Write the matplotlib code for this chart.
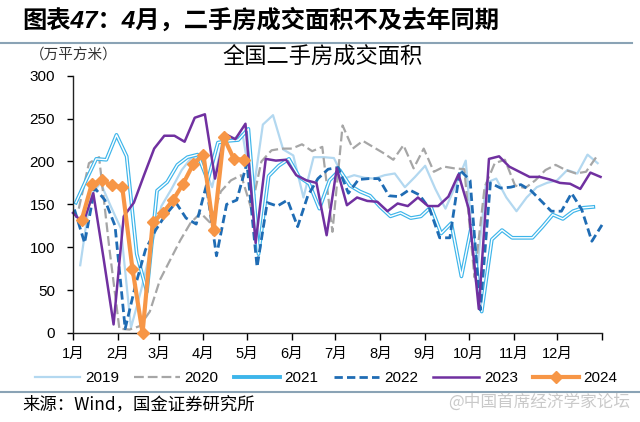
import numpy as np
import matplotlib.pyplot as plt
from matplotlib.lines import Line2D

plt.rcParams['font.family'] = ['Liberation Sans', 'Noto Sans CJK SC']

jahre = ['2019', '2020', '2021', '2022', '2023', '2024']
# first weekly date of each year
start = ['2019-01-06', '2020-01-05', '2021-01-03', '2022-01-02', '2023-01-01', '2024-01-07']

v2019 = [79, 160, 175, 148, 122, 6, 50, 100, 148, 168,
         190, 205, 200, 170, 222, 226, 232, 160, 243, 254,
         214, 207, 158, 205, 205, 204, 180, 184, 181, 180,
         184, 186, 170, 182, 195, 168, 145, 172, 201, 60,
         175, 180, 158, 142, 158, 170, 175, 178, 190, 186,
         208, 198]
v2020 = [145, 198, 205, 100, 5, 4, 8, 25, 62, 85,
         108, 128, 140, 128, 165, 178, 184, 145, 200, 213,
         215, 215, 220, 212, 217, 118, 242, 215, 224, 217,
         210, 202, 219, 192, 215, 188, 194, 192, 191, 65,
         170, 198, 202, 172, 169, 178, 190, 196, 190, 186,
         188, 205]
v2021 = [152, 178, 203, 202, 231, 206, 92, 48, 166, 176,
         196, 205, 208, 178, 222, 224, 225, 238, 92, 183,
         195, 203, 182, 174, 145, 178, 190, 172, 165, 160,
         147, 136, 140, 134, 136, 147, 116, 128, 66, 125,
         25, 109, 120, 111, 111, 111, 124, 138, 133, 142,
         146, 147]
v2022 = [144, 105, 169, 155, 125, 5, 55, 97, 120, 138,
         152, 134, 127, 172, 90, 150, 155, 198, 77, 152,
         148, 155, 124, 160, 180, 191, 193, 163, 179, 180,
         180, 160, 159, 167, 161, 145, 111, 111, 190, 178,
         27, 175, 169, 170, 173, 166, 154, 142, 142, 163,
         144, 107, 126]
v2023 = [140, 128, 163, 88, 10, 136, 152, 184, 215, 230,
         230, 223, 251, 255, 180, 232, 226, 244, 105, 203,
         201, 202, 184, 178, 175, 114, 192, 149, 158, 154,
         153, 142, 151, 148, 158, 148, 148, 159, 185, 145,
         28, 203, 206, 194, 188, 182, 182, 179, 175, 174,
         168, 187, 182]
v2024 = [132, 174, 178, 172, 170, 75, 0, 129, 140, 155,
         174, 197, 208, 120, 228, 203, 202]

werte = [v2019, v2020, v2021, v2022, v2023, v2024]
monate = ['1月', '2月', '3月', '4月', '5月', '6月', '7月', '8月', '9月', '10月', '11月', '12月']


def tage(jahr, anfang, n):
    d = np.datetime64(anfang) + 7 * np.arange(n)
    return (d - np.datetime64(jahr + '-01-01')).astype(int)


monat_tage = [(np.datetime64('2023-%02d-01' % m) - np.datetime64('2023-01-01')).astype(int)
              for m in range(1, 13)] + [365]

fig = plt.figure(figsize=(6.4, 4.22), dpi=100)
ax = fig.add_axes([73 / 640, 1 - 333 / 422, 529 / 640, 257.3 / 422])

x = [tage(j, s, len(v)) for j, s, v in zip(jahre, start, werte)]

ax.plot(x[0], v2019, color='#b3d8f0', lw=1.6, clip_on=False)
ax.plot(x[1], v2020, color='#a6a6a6', lw=1.6, dashes=(4.4, 1.8), clip_on=False)
# 2021 is drawn as a double line
ax.plot(x[2], v2021, color='#3db5ea', lw=2.7, clip_on=False)
ax.plot(x[2], v2021, color='white', lw=1.0, clip_on=False)
ax.plot(x[3], v2022, color='#1f6cb4', lw=2.0, dashes=(3, 1.5), clip_on=False)
ax.plot(x[4], v2023, color='#7030a0', lw=1.8, clip_on=False)
ax.plot(x[5], v2024, color='#f79646', lw=3.0, marker='D', ms=6.5, clip_on=False, zorder=5)

ax.set_xlim(0, 365)
ax.set_ylim(0, 300)
ax.set_yticks(range(0, 301, 50))
ax.set_xticks(monat_tage)
ax.set_xticklabels(monate + [''])
ax.tick_params(axis='y', length=4, width=1, pad=9, labelsize=11)
ax.tick_params(axis='x', length=5, width=1, pad=5, labelsize=10.5)
for s in ['top', 'right']:
    ax.spines[s].set_visible(False)
for s in ['left', 'bottom']:
    ax.spines[s].set_linewidth(1)
    ax.spines[s].set_color('#222222')

handles = [Line2D([], [], color='#b3d8f0', lw=1.6),
           Line2D([], [], color='#a6a6a6', lw=1.6, dashes=(4.4, 1.8)),
           Line2D([], [], color='#3db5ea', lw=2.8),
           Line2D([], [], color='#1f6cb4', lw=2.0, dashes=(3, 1.5)),
           Line2D([], [], color='#7030a0', lw=1.8),
           Line2D([], [], color='#f79646', lw=3.0, marker='D', ms=6.5)]
fig.legend(handles, jahre, loc='center', bbox_to_anchor=(326 / 640, 1 - 378 / 422), ncol=6,
           frameon=False, fontsize=11, handlelength=3, handletextpad=0.3, columnspacing=1.0)

fig.text(22 / 640, 1 - 21 / 422, '图表47：4月，二手房成交面积不及去年同期', fontsize=17.5,
         fontweight='bold', style='italic', va='center', ha='left')
fig.add_artist(Line2D([0, 632 / 640], [1 - 43 / 422] * 2, color='#8aa3b5', lw=1.5,
                      transform=fig.transFigure))
fig.text(30 / 640, 1 - 56 / 422, '（万平方米）', fontsize=10.5, va='center', ha='left',
         family='Noto Sans CJK SC', color='#333333')
fig.text(323 / 640, 1 - 57 / 422, '全国二手房成交面积', fontsize=16, va='center', ha='center',
         family='Noto Sans CJK SC')

fig.add_artist(Line2D([0, 1], [1 - 392 / 422] * 2, color='#8aa3b5', lw=1.5,
                      transform=fig.transFigure))
fig.text(22 / 640, 1 - 404 / 422, '来源：Wind，国金证券研究所', fontsize=12.5, va='center',
         ha='left', family='Noto Sans CJK SC')
fig.text(630 / 640, 1 - 402 / 422, '@中国首席经济学家论坛', fontsize=12, va='center', ha='right',
         family='Noto Sans CJK SC', color='#c4c4c4', alpha=0.9)

fig.savefig('out.png', dpi=100)
